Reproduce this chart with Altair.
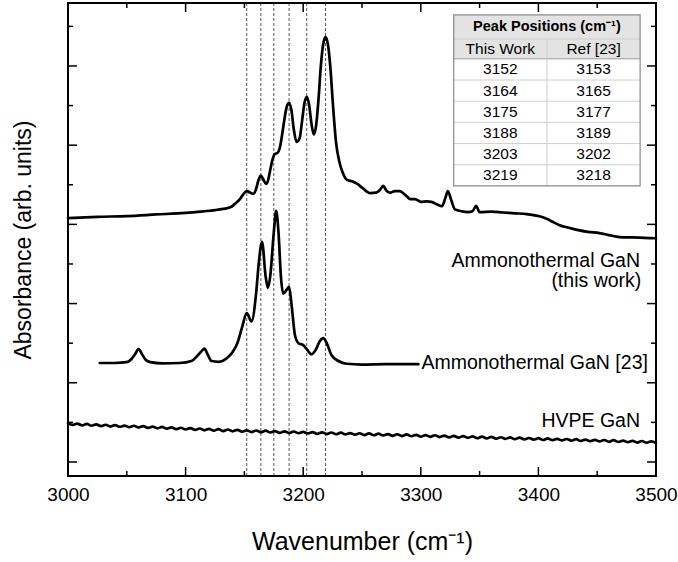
import altair as alt
import pandas as pd

# ---------------- data ----------------
upper_x = [3000, 3025, 3050, 3075, 3100, 3115, 3125, 3132, 3138, 3142, 3146, 3149, 3152, 3155, 3157.6,
           3160, 3162, 3164, 3166, 3168.4, 3170, 3172, 3174, 3176, 3178, 3180, 3182, 3184, 3186, 3188,
           3190, 3192, 3194.4, 3197, 3199, 3201, 3203, 3205, 3207, 3209, 3211, 3213, 3215, 3217, 3219,
           3221, 3223, 3225, 3228, 3231, 3234, 3237, 3242, 3246, 3250, 3257, 3262, 3265, 3268, 3271,
           3274, 3278, 3282, 3287, 3291, 3295, 3300, 3305, 3309, 3314, 3318, 3321, 3323, 3326, 3329,
           3335, 3340, 3344, 3347, 3350, 3360, 3370, 3380, 3390, 3400, 3407, 3413, 3418, 3425, 3433,
           3442, 3452, 3460, 3469, 3480, 3490, 3500]
upper_y = [6.16, 6.19, 6.21, 6.25, 6.29, 6.33, 6.36, 6.39, 6.43, 6.52, 6.63, 6.76, 6.84, 6.80, 6.77,
           6.90, 7.12, 7.23, 7.14, 7.02, 7.10, 7.38, 7.65, 7.78, 7.80, 7.92, 8.25, 8.65, 8.97, 9.07,
           8.88, 8.40, 8.08, 8.18, 8.60, 9.05, 9.22, 9.02, 8.55, 8.27, 8.50, 9.15, 10.0, 10.55, 10.73,
           10.55, 10.0, 9.15, 8.05, 7.55, 7.28, 7.13, 7.08, 7.02, 6.93, 6.79, 6.80, 6.86, 6.97, 6.84,
           6.80, 6.84, 6.84, 6.74, 6.64, 6.64, 6.57, 6.58, 6.57, 6.50, 6.46, 6.68, 6.84, 6.60, 6.38,
           6.33, 6.31, 6.33, 6.47, 6.31, 6.32, 6.30, 6.28, 6.26, 6.21, 6.14, 6.05, 5.98, 5.92, 5.86,
           5.81, 5.78, 5.73, 5.68, 5.67, 5.66, 5.65]

mid_x = [3027, 3040, 3050, 3054, 3057, 3060, 3063, 3066, 3070, 3080, 3095, 3105, 3110, 3113, 3116,
         3119, 3122, 3128, 3135, 3140, 3144, 3148, 3152, 3156, 3160, 3162, 3165, 3168, 3170, 3172,
         3175, 3177, 3179, 3181, 3183, 3186, 3188, 3190, 3193, 3196, 3200, 3203, 3207, 3211, 3214,
         3217, 3220, 3224, 3230, 3237, 3250, 3270, 3298]
mid_y = [2.50, 2.50, 2.52, 2.60, 2.72, 2.85, 2.72, 2.58, 2.52, 2.49, 2.50, 2.55, 2.68, 2.78, 2.86,
         2.70, 2.55, 2.53, 2.62, 2.78, 3.00, 3.40, 3.76, 3.55, 4.27, 4.95, 5.56, 4.70, 4.40, 4.70,
         5.80, 6.34, 5.80, 4.70, 4.25, 4.35, 4.42, 4.00, 3.20, 3.00, 2.95, 2.85, 2.72, 2.85, 3.05,
         3.13, 3.00, 2.70, 2.55, 2.48, 2.46, 2.47, 2.47]

hvpe_x = list(range(3000, 3501, 4))
hvpe_y = [0.98, 0.935, 0.97, 0.925, 0.96, 0.915, 0.95, 0.905, 0.94, 0.895, 0.93, 0.89, 0.92, 0.88,
          0.915, 0.87, 0.905, 0.86, 0.895, 0.85, 0.885, 0.84, 0.875, 0.83, 0.865, 0.82, 0.855, 0.81,
          0.845, 0.80, 0.835, 0.79, 0.83, 0.78, 0.82, 0.775, 0.81, 0.765, 0.80, 0.755, 0.795, 0.75,
          0.79, 0.745, 0.78, 0.735, 0.775, 0.73, 0.77, 0.725, 0.76, 0.72, 0.755, 0.71, 0.75, 0.705,
          0.745, 0.70, 0.74, 0.695, 0.73, 0.69, 0.725, 0.68, 0.72, 0.675, 0.715, 0.67, 0.705, 0.66,
          0.70, 0.655, 0.695, 0.65, 0.685, 0.64, 0.68, 0.635, 0.675, 0.63, 0.665, 0.62, 0.66, 0.615,
          0.655, 0.61, 0.645, 0.60, 0.64, 0.595, 0.635, 0.59, 0.625, 0.585, 0.62, 0.575, 0.615, 0.57,
          0.605, 0.565, 0.60, 0.555, 0.595, 0.55, 0.585, 0.545, 0.58, 0.54, 0.575, 0.53, 0.565, 0.525,
          0.56, 0.52, 0.555, 0.51, 0.55, 0.505, 0.54, 0.50, 0.535, 0.49, 0.53, 0.485, 0.52, 0.48]

peaks_this_work = [3152, 3164, 3175, 3188, 3203, 3219]
peaks_ref23 = [3153, 3165, 3177, 3189, 3202, 3218]

x_major = [3000, 3100, 3200, 3300, 3400, 3500]
x_minor = [3050, 3150, 3250, 3350, 3450]
y_major = [0, 2, 4, 6, 8, 10]
y_minor = [1, 3, 5, 7, 9, 11]

series_names = ["Ammonothermal GaN (this work)", "Ammonothermal GaN [23]", "HVPE GaN"]

# ---------------- layout ----------------
W, H = 588, 473
FONT = "Liberation Sans"
XDOM = [3000, 3500]
YDOM = [-0.354, 11.59]
xs = alt.Scale(domain=XDOM, nice=False, zero=False)
ys = alt.Scale(domain=YDOM, nice=False, zero=False)

x_axis = alt.Axis(
    values=x_major, format="d", ticks=False, domain=False, grid=False, labelFlush=False,
    labelFontSize=19, labelPadding=9, labelColor="black", labelFont=FONT,
    title="Wavenumber (cm⁻¹)", titleFontSize=25, titleFont=FONT, titleFontWeight="normal",
    titleColor="black", titlePadding=25)
y_axis = alt.Axis(
    labels=False, ticks=False, domain=False, grid=False,
    title="Absorbance (arb. units)", titleFontSize=23, titleFont=FONT,
    titleFontWeight="normal", titleColor="black", titlePadding=33)


def X(field="x"):
    return alt.X(f"{field}:Q", scale=xs, axis=x_axis)


def Y(field="y"):
    return alt.Y(f"{field}:Q", scale=ys, axis=y_axis)


frames = []
for name, xv, yv in zip(series_names, [upper_x, mid_x, hvpe_x], [upper_y, mid_y, hvpe_y]):
    frames.append(pd.DataFrame({"x": xv, "y": yv, "series": name}))
curves_df = pd.concat(frames, ignore_index=True)

curves = alt.Chart(curves_df).mark_line(
    color="black", strokeWidth=2.7, interpolate="monotone", strokeJoin="round", strokeCap="round"
).encode(x=X(), y=Y(), detail="series:N")

dashes = alt.Chart(pd.DataFrame({"x": peaks_this_work})).mark_rule(
    color="#555555", strokeWidth=1, strokeDash=[3, 2]
).encode(x=X())


def xticks(vals, L):
    d = pd.DataFrame({"x": vals})
    b = alt.Chart(d).mark_rule(color="black", strokeWidth=1.5).encode(
        x=X(), y=alt.value(H), y2=alt.value(H - L))
    t = alt.Chart(d).mark_rule(color="black", strokeWidth=1.5).encode(
        x=X(), y=alt.value(0), y2=alt.value(L))
    return [b, t]


def yticks(vals, L):
    d = pd.DataFrame({"y": vals})
    l = alt.Chart(d).mark_rule(color="black", strokeWidth=1.5).encode(
        y=Y(), x=alt.value(0), x2=alt.value(L))
    r = alt.Chart(d).mark_rule(color="black", strokeWidth=1.5).encode(
        y=Y(), x=alt.value(W), x2=alt.value(W - L))
    return [l, r]


ticks = xticks(x_major, 9) + xticks(x_minor, 5) + yticks(y_major, 9) + yticks(y_minor, 5)

# plot frame: thin filled bars along each edge
edge_df = pd.DataFrame({"x": [XDOM[0]], "x2": [XDOM[1]]})
frame_top = alt.Chart(edge_df).mark_rect(fill="black").encode(
    x=X(), x2="x2", y=alt.value(-1), y2=alt.value(1))
frame_bot = alt.Chart(edge_df).mark_rect(fill="black").encode(
    x=X(), x2="x2", y=alt.value(H - 1), y2=alt.value(H + 1))
frame_left = alt.Chart(edge_df).mark_rect(fill="black").encode(
    x=alt.value(-1), x2=alt.value(1), y=alt.value(-1), y2=alt.value(H + 1))
frame_right = alt.Chart(edge_df).mark_rect(fill="black").encode(
    x=alt.value(W - 1), x2=alt.value(W + 1), y=alt.value(-1), y2=alt.value(H + 1))

# ---------------- inset table (in data units) ----------------
tx0, tx1, txm = 3328.0, 3486.5, 3407.3
ty_top, ty_h1, ty_h2, ty_bot = 11.29, 10.68, 10.18, 6.97
row_h = (ty_h2 - ty_bot) / len(peaks_this_work)


def box(y0, y1, **kw):
    d = pd.DataFrame({"x": [tx0], "x2": [tx1], "y": [y0], "y2": [y1]})
    return alt.Chart(d).mark_rect(**kw).encode(x=X(), x2="x2", y=Y(), y2="y2")


hdr_bg = box(ty_h2, ty_top, fill="#e3e3e3")
body_bg = box(ty_bot, ty_h2, fill="white")
border = box(ty_bot, ty_top, fill=None, stroke="#8a8a8a", strokeWidth=1.2)

hlines_light = pd.DataFrame({
    "y": [ty_h1] + [ty_h2 - row_h * k for k in range(1, len(peaks_this_work))],
    "x": tx0, "x2": tx1})
hl = alt.Chart(hlines_light).mark_rule(color="#cfcfcf", strokeWidth=1).encode(
    y=Y(), x=X(), x2="x2")
hl_dark = alt.Chart(pd.DataFrame({"y": [ty_h2], "x": [tx0], "x2": [tx1]})).mark_rule(
    color="#9a9a9a", strokeWidth=1).encode(y=Y(), x=X(), x2="x2")
vl = alt.Chart(pd.DataFrame({"x": [txm], "y": [ty_bot], "y2": [ty_h1]})).mark_rule(
    color="#cfcfcf", strokeWidth=1).encode(x=X(), y=Y(), y2="y2")

c1, c2 = (tx0 + txm) / 2, (txm + tx1) / 2
cells = []
for i, (a, b) in enumerate(zip(peaks_this_work, peaks_ref23)):
    yc = ty_h2 - row_h * (i + 0.5)
    cells.append({"x": c1, "y": yc, "t": str(a)})
    cells.append({"x": c2, "y": yc, "t": str(b)})
cells.append({"x": c1, "y": (ty_h1 + ty_h2) / 2, "t": "This Work"})
cells.append({"x": c2, "y": (ty_h1 + ty_h2) / 2, "t": "Ref [23]"})
cell_text = alt.Chart(pd.DataFrame(cells)).mark_text(
    font=FONT, fontSize=15.5, color="black", baseline="middle", align="center").encode(
    x=X(), y=Y(), text="t:N")
hdr_text = alt.Chart(pd.DataFrame({"x": [(tx0 + tx1) / 2], "y": [(ty_top + ty_h1) / 2],
                                   "t": ["Peak Positions (cm⁻¹)"]})).mark_text(
    font=FONT, fontSize=14.5, fontWeight="bold", color="black", baseline="middle", align="center").encode(
    x=X(), y=Y(), text="t:N")

# ---------------- curve labels ----------------
lab_right = pd.DataFrame({"x": [3486.4, 3487.5, 3486.4], "y": [5.08, 4.58, 1.04],
                          "t": ["Ammonothermal GaN", "(this work)", "HVPE GaN"]})
lab_r = alt.Chart(lab_right).mark_text(font=FONT, fontSize=19.5, color="black", align="right",
                                       baseline="middle").encode(x=X(), y=Y(), text="t:N")
lab_left = pd.DataFrame({"x": [3300.5], "y": [2.5], "t": ["Ammonothermal GaN [23]"]})
lab_l = alt.Chart(lab_left).mark_text(font=FONT, fontSize=19.5, color="black", align="left",
                                      baseline="middle").encode(x=X(), y=Y(), text="t:N")

chart = alt.layer(
    dashes, curves, *ticks, body_bg, hdr_bg, hl, hl_dark, vl, border, cell_text, hdr_text,
    lab_r, lab_l, frame_top, frame_bot, frame_left, frame_right
).properties(
    width=W, height=H,
    autosize=alt.AutoSizeParams(type="none"),
    padding={"left": 68, "top": 3, "right": 22, "bottom": 86},
).configure_view(stroke=None).configure(background="white")

chart.save("out.html", embed_options={"renderer": "svg", "actions": False})
